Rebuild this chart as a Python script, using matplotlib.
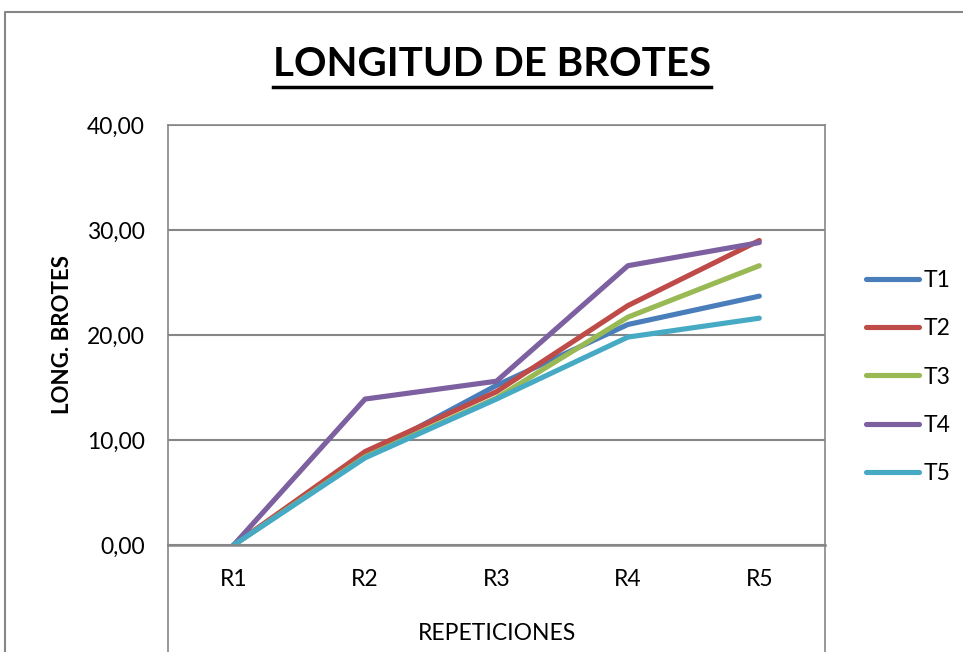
import matplotlib
matplotlib.use("Agg")
import matplotlib.pyplot as plt
from matplotlib.lines import Line2D
from matplotlib.ticker import FuncFormatter

plt.rcParams['font.family'] = ['Lato', 'DejaVu Sans']

# datos
repeticiones = ["R1", "R2", "R3", "R4", "R5"]
t1 = [0.0, 8.5, 15.2, 21.0, 23.7]
t2 = [0.0, 8.9, 14.6, 22.8, 29.0]
t3 = [0.0, 8.4, 14.0, 21.7, 26.6]
t4 = [0.0, 13.9, 15.6, 26.6, 28.8]
t5 = [0.0, 8.3, 13.9, 19.8, 21.6]
series = [("T1", t1, "#4A7EBB"), ("T2", t2, "#BE4B48"), ("T3", t3, "#98B954"),
          ("T4", t4, "#7D60A0"), ("T5", t5, "#46AAC5")]

W, H = 963, 652
fig = plt.figure(figsize=(W / 100, H / 100), dpi=100)
ax = fig.add_axes([168 / W, 1 - 545 / H, (825 - 168) / W, (545 - 125) / H])

x = range(len(repeticiones))
for name, vals, col in series:
    ax.plot(x, vals, color=col, lw=3.7, solid_capstyle="round", label=name)

grid_col = "#868686"
ax.set_xlim(-0.5, 4.5)
ax.set_ylim(0, 40)
ax.set_yticks([0, 10, 20, 30, 40])
ax.yaxis.set_major_formatter(FuncFormatter(lambda v, p: f"{v:.2f}".replace(".", ",")))
ax.set_xticks(list(x))
ax.set_xticklabels(repeticiones)
ax.grid(axis="y", color=grid_col, lw=1.5)
ax.set_axisbelow(True)
for s in ax.spines.values():
    s.set_color(grid_col)
    s.set_linewidth(1.2)
ax.spines["bottom"].set_linewidth(1.8)
ax.tick_params(axis="both", length=0, labelsize=16.5)
ax.tick_params(axis="y", pad=16.5)
ax.tick_params(axis="x", pad=17)

ax.set_xlabel("REPETICIONES", fontsize=16.5, labelpad=24)
ax.set_ylabel("LONG. BROTES", fontsize=16, fontweight="bold", labelpad=10)

# lineas del area de trazado que bajan hasta el borde
for px in (168, 825):
    fig.add_artist(Line2D([px / W, px / W], [0, 1 - 545 / H], color=grid_col, lw=1.2))
# borde exterior del grafico
fig.add_artist(Line2D([5 / W, 5 / W, 1], [0, 1 - 12 / H, 1 - 12 / H], color=grid_col, lw=1.5))

leg = ax.legend(loc="center left", bbox_to_anchor=(845 / W, 1 - 377 / H),
                bbox_transform=fig.transFigure, frameon=False, fontsize=16.5,
                handlelength=2.35, handletextpad=0.18, labelspacing=1.18)
for h in leg.get_lines():
    h.set_linewidth(3.7)
    h.set_solid_capstyle("round")

title = fig.text(492 / W, 1 - 64 / H, "LONGITUD DE BROTES", fontsize=29,
                 fontweight="bold", ha="center", va="center")
fig.canvas.draw()
bb = title.get_window_extent()
fig.add_artist(Line2D([bb.x0 / W, bb.x1 / W], [1 - 87 / H, 1 - 87 / H], color="black", lw=2.5))

fig.savefig("out.png", dpi=100)
